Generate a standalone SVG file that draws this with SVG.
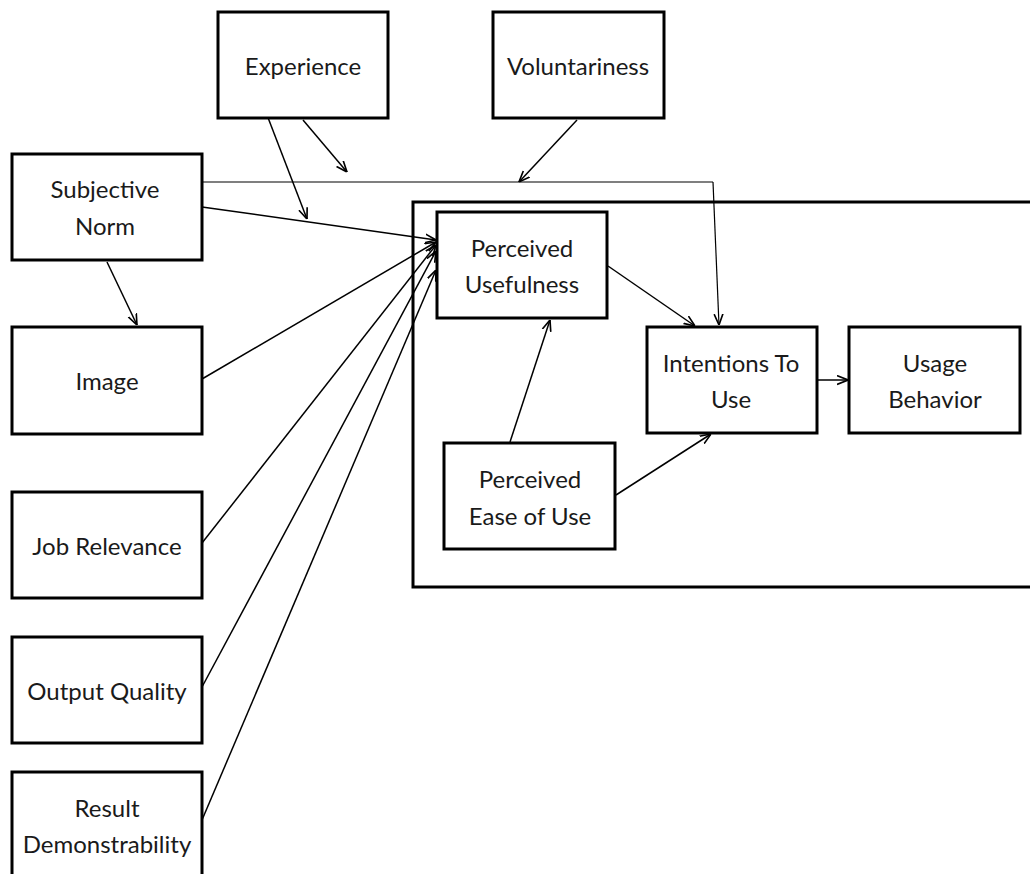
<svg xmlns="http://www.w3.org/2000/svg" width="1030" height="874" viewBox="0 0 1030 874">
  <defs>
    <marker id="open" viewBox="0 0 10 10" refX="10" refY="5" markerWidth="11" markerHeight="11" markerUnits="userSpaceOnUse" orient="auto">
      <path d="M0,1 L10,5 L0,9" fill="none" stroke="#000" stroke-width="1.5"/>
    </marker>
  </defs>
  <style>
    .box { fill: #fff; stroke: #000; stroke-width: 3; }
    .frame { fill: none; stroke: #000; stroke-width: 3; }
    .lbl { font-family: Lato, "Liberation Sans", sans-serif; font-size: 24px; fill: #1a1a1a; text-anchor: middle; }
    .edge { fill: none; stroke: #000; stroke-width: 1.5; marker-end: url(#open); }
    .thin { fill: none; stroke: #000; stroke-width: 1.2; }
  </style>
  <rect width="1030" height="874" fill="#fff"/>

  <!-- enclosing frame for the core model -->
  <rect id="core-frame" class="frame" x="413" y="202" width="640" height="385"/>

  <!-- connectors -->
  <g id="connectors">
    <line class="edge" x1="303" y1="120" x2="347" y2="172"/>
    <line class="edge" x1="267" y1="115" x2="307" y2="219"/>
    <line class="edge" x1="577" y1="120" x2="519" y2="182"/>
    <polyline class="thin" points="202,182 713,182" />
    <line class="edge" x1="713" y1="182" x2="719" y2="325" style="stroke-width:1.2"/>
    <line class="edge" x1="202" y1="207" x2="436" y2="240"/>
    <line class="edge" x1="107" y1="262" x2="137" y2="325"/>
    <line class="edge" x1="202" y1="379" x2="436" y2="242"/>
    <line class="edge" x1="202" y1="543" x2="436" y2="245"/>
    <line class="edge" x1="202" y1="687" x2="436" y2="251"/>
    <line class="edge" x1="202" y1="820" x2="436" y2="270"/>
    <line class="edge" x1="608" y1="266" x2="695" y2="326"/>
    <line class="edge" x1="510" y1="442" x2="550" y2="320"/>
    <line class="edge" x1="616" y1="495" x2="711" y2="434"/>
    <line class="edge" x1="817" y1="380" x2="848" y2="380"/>
  </g>

  <g id="experience">
    <rect class="box" x="218" y="12" width="170" height="106"/>
    <text class="lbl" x="303" y="75">Experience</text>
  </g>
  <g id="voluntariness">
    <rect class="box" x="493" y="12" width="171" height="106"/>
    <text class="lbl" x="578" y="75">Voluntariness</text>
  </g>
  <g id="subjective-norm">
    <rect class="box" x="12" y="154" width="190" height="106"/>
    <text class="lbl" x="105" y="198">Subjective</text>
    <text class="lbl" x="105" y="235">Norm</text>
  </g>
  <g id="image">
    <rect class="box" x="12" y="327" width="190" height="107"/>
    <text class="lbl" x="107" y="390">Image</text>
  </g>
  <g id="job-relevance">
    <rect class="box" x="12" y="492" width="190" height="106"/>
    <text class="lbl" x="107" y="555">Job Relevance</text>
  </g>
  <g id="output-quality">
    <rect class="box" x="12" y="637" width="190" height="106"/>
    <text class="lbl" x="107" y="700">Output Quality</text>
  </g>
  <g id="result-demonstrability">
    <rect class="box" x="12" y="772" width="190" height="110"/>
    <text class="lbl" x="107" y="817">Result</text>
    <text class="lbl" x="107" y="853">Demonstrability</text>
  </g>
  <g id="perceived-usefulness">
    <rect class="box" x="437" y="212" width="170" height="106"/>
    <text class="lbl" x="522" y="257">Perceived</text>
    <text class="lbl" x="522" y="293">Usefulness</text>
  </g>
  <g id="perceived-ease-of-use">
    <rect class="box" x="444" y="443" width="171" height="106"/>
    <text class="lbl" x="530" y="488">Perceived</text>
    <text class="lbl" x="530" y="525">Ease of Use</text>
  </g>
  <g id="intentions-to-use">
    <rect class="box" x="647" y="327" width="170" height="106"/>
    <text class="lbl" x="731" y="372">Intentions To</text>
    <text class="lbl" x="731" y="408">Use</text>
  </g>
  <g id="usage-behavior">
    <rect class="box" x="849" y="327" width="171" height="106"/>
    <text class="lbl" x="935" y="372">Usage</text>
    <text class="lbl" x="935" y="408">Behavior</text>
  </g>
</svg>
